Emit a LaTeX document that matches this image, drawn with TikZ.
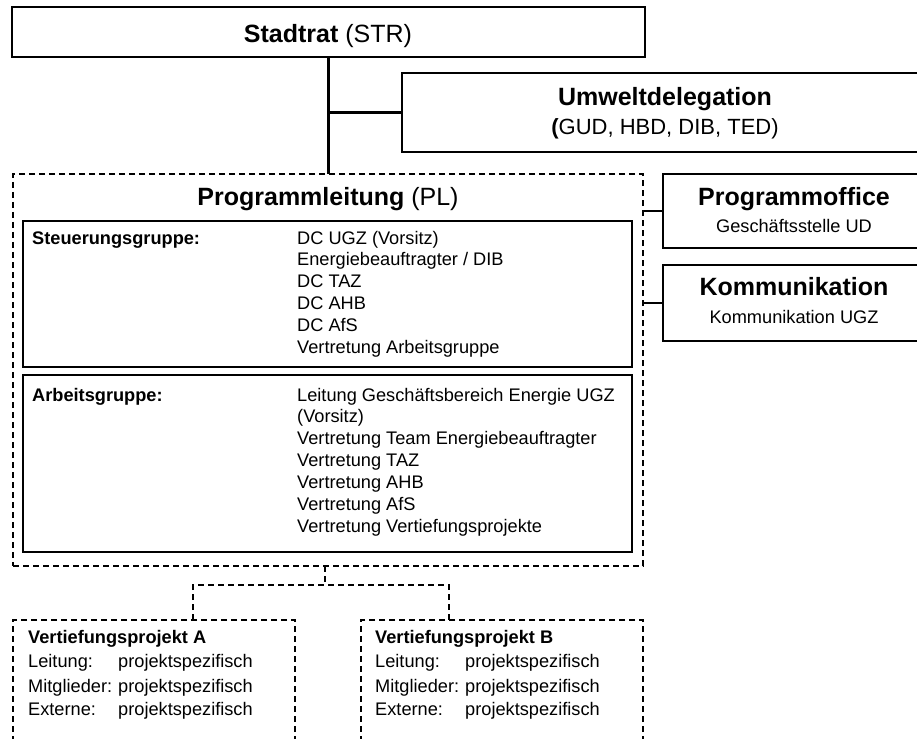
\documentclass[tikz,border=0pt]{standalone}
\usepackage{fontspec}
\setmainfont{Liberation Sans}
\begin{document}
\begin{tikzpicture}[x=1pt,y=-1pt,
  sbox/.style={draw, line width=2.2pt, rectangle, inner sep=0pt, outer sep=0pt, anchor=north west},
  dbox/.style={sbox, line width=1.8pt, dash pattern=on 6pt off 4pt},
  link/.style={line width=2.4pt},
  dlink/.style={line width=1.8pt, dash pattern=on 6pt off 4pt},
  t18/.style={anchor=base, inner sep=0pt, font=\fontsize{18.2}{22}\selectfont},
  t18w/.style={t18, anchor=base west},
  b18w/.style={t18w, font=\bfseries\fontsize{18.2}{22}\selectfont},
  t22/.style={anchor=base, inner sep=0pt, font=\fontsize{22}{26}\selectfont},
  big/.style={anchor=base, inner sep=0pt, font=\fontsize{25}{30}\selectfont},
  bigb/.style={big, font=\bfseries\fontsize{25}{30}\selectfont},
]
\useasboundingbox (0,0) rectangle (917,738);
\clip (0,0) rectangle (917,738);
\fill[white] (0,0) rectangle (917,738);

% boxes
\node[sbox, minimum width=633pt, minimum height=50pt] (str) at (12,7) {};
\node[sbox, minimum width=526pt, minimum height=79pt] (umw) at (402,73) {};
\node[dbox, minimum width=630pt, minimum height=392pt] (pl) at (13,174) {};
\node[sbox, minimum width=609pt, minimum height=146pt] (stg) at (23,221) {};
\node[sbox, minimum width=609pt, minimum height=177pt] (arb) at (23,375) {};
\node[sbox, minimum width=267pt, minimum height=74pt] (po) at (663,174) {};
\node[sbox, minimum width=267pt, minimum height=76pt] (kom) at (663,265) {};
\node[dbox, minimum width=282pt, minimum height=140pt] (vpa) at (13,620) {};
\node[dbox, minimum width=282pt, minimum height=140pt] (vpb) at (361,620) {};

% connectors
\draw[link] (str.south) -- (str.south |- pl.north);
\draw[link] (str.south |- umw.west) -- (umw.west);
\draw[link] (pl.east |- po.west) -- (po.west);
\draw[link] (pl.east |- kom.west) -- (kom.west);
\coordinate (mid) at (325,585);
\coordinate (ta) at (193,620);
\coordinate (tb) at (449,620);
\draw[dlink] (mid |- pl.south) -- (mid);
\draw[dlink] (ta) -- (ta |- mid) -- (tb |- mid) -- (tb);

% titles
\node[big] (strt) at (328,43) {\textbf{Stadtrat} (STR)};
\node[bigb] (umt) at (665,106) {Umweltdelegation};
\node[t22] (ums) at (665,135) {\textbf{(}GUD, HBD, DIB, TED)};
\node[big] (plt) at (328,205) {\textbf{Programmleitung} (PL)};
\node[bigb] (pot) at (794,205) {Programmoffice};
\node[t18] (pos) at (794,232) {Geschäftsstelle UD};
\node[bigb] (komt) at (794,295) {Kommunikation};
\node[t18] (koms) at (794,323) {Kommunikation UGZ};

% Steuerungsgruppe
\node[b18w] (stgl) at (32,244) {Steuerungsgruppe:};
\foreach \t [count=\i] in {DC UGZ (Vorsitz), Energiebeauftragter / DIB, DC TAZ, DC AHB, DC AfS, Vertretung Arbeitsgruppe}
  \node[t18w] (s\i) at (297,{244+21.8*(\i-1)}) {\t};

% Arbeitsgruppe
\node[b18w] (arbl) at (32,401) {Arbeitsgruppe:};
\foreach \t [count=\i] in {Leitung Geschäftsbereich Energie UGZ, (Vorsitz), Vertretung Team Energiebeauftragter, Vertretung TAZ, Vertretung AHB, Vertretung AfS, Vertretung Vertiefungsprojekte}
  \node[t18w] (a\i) at (297,{401+21.9*(\i-1)}) {\t};

% Vertiefungsprojekte
\foreach \p/\x in {A/28, B/375} {
  \node[b18w] (vt\p) at (\x,643) {Vertiefungsprojekt \p};
  \node[t18w] (vl\p) at (\x,667) {Leitung:};
  \node[t18w] (vm\p) at (\x,692) {Mitglieder:};
  \node[t18w] (ve\p) at (\x,715) {Externe:};
  \node[t18w] (vl2\p) at ({\x+90},667) {projektspezifisch};
  \node[t18w] (vm2\p) at ({\x+90},692) {projektspezifisch};
  \node[t18w] (ve2\p) at ({\x+90},715) {projektspezifisch};
}
\end{tikzpicture}
\end{document}
